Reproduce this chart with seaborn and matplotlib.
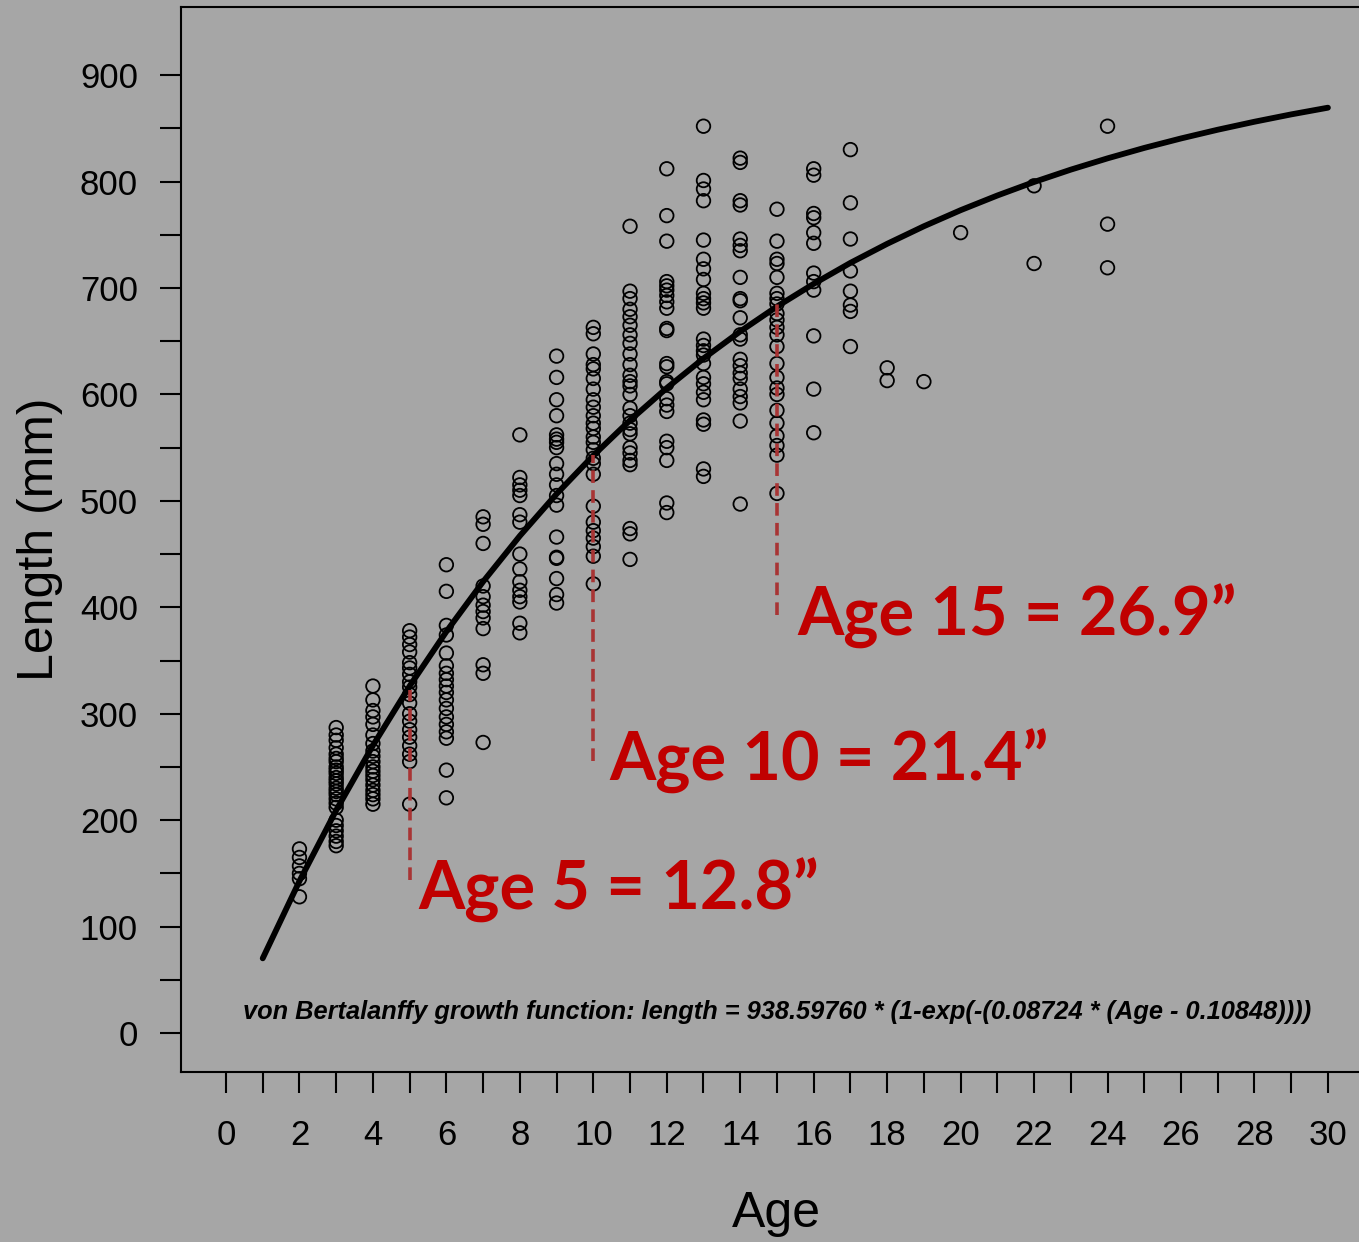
import numpy as np
import pandas as pd
import matplotlib
matplotlib.use("Agg")
import matplotlib.pyplot as plt
import seaborn as sns

# =========================================================
# DATA
# =========================================================

len_age2 = [173, 165, 157, 150, 145, 128]
len_age3 = [287, 280, 275, 268, 262, 258, 255, 250, 247, 244, 240, 237, 234,
            230, 227, 224, 220, 216, 212, 200, 195, 190, 185, 180, 176]
len_age4 = [326, 313, 303, 297, 290, 280, 272, 265, 260, 255, 250, 246, 242,
            238, 233, 228, 224, 220, 215]
len_age5 = [378, 372, 365, 358, 348, 343, 337, 330, 325, 318, 310, 300, 293,
            285, 278, 270, 262, 255, 215]
len_age6 = [440, 415, 383, 374, 357, 345, 338, 332, 326, 320, 313, 305, 297,
            290, 283, 277, 247, 221]
len_age7 = [485, 478, 460, 420, 410, 402, 396, 390, 380, 346, 338, 273]
len_age8 = [562, 522, 515, 510, 505, 487, 480, 450, 436, 424, 416, 410, 405,
            385, 376]
len_age9 = [636, 616, 595, 580, 562, 558, 555, 550, 535, 525, 515, 505, 496,
            466, 447, 446, 427, 412, 404]
len_age10 = [663, 657, 638, 628, 624, 615, 605, 595, 588, 580, 573, 568, 560,
             555, 548, 540, 535, 525, 495, 480, 472, 465, 457, 448, 422]
len_age11 = [758, 697, 690, 680, 673, 665, 656, 648, 638, 628, 618, 612, 608,
             600, 587, 580, 573, 567, 563, 550, 545, 538, 534, 474, 469, 445]
len_age12 = [812, 768, 744, 706, 702, 698, 693, 687, 681, 662, 660, 629, 626,
             612, 610, 596, 590, 584, 556, 550, 538, 498, 489]
len_age13 = [852, 801, 793, 782, 745, 727, 718, 708, 695, 690, 686, 681, 652,
             646, 641, 637, 629, 616, 610, 602, 595, 576, 572, 530, 523]
len_age14 = [822, 818, 782, 778, 746, 740, 735, 710, 690, 688, 672, 656, 652,
             633, 627, 620, 615, 605, 598, 592, 575, 497]
len_age15 = [774, 744, 727, 723, 710, 695, 690, 685, 676, 670, 663, 656, 645,
             629, 616, 606, 600, 585, 573, 561, 552, 543, 507]
len_age16 = [812, 806, 770, 766, 752, 742, 714, 706, 698, 655, 605, 564]
len_age17 = [830, 780, 746, 716, 697, 684, 678, 645]
len_age18 = [625, 613]
len_age19 = [612]
len_age20 = [752]
len_age22 = [796, 723]
len_age24 = [852, 760, 719]

obs_ages = [2, 3, 4, 5, 6, 7, 8, 9, 10, 11, 12, 13, 14, 15, 16, 17, 18, 19,
            20, 22, 24]
obs_lengths = [len_age2, len_age3, len_age4, len_age5, len_age6, len_age7,
               len_age8, len_age9, len_age10, len_age11, len_age12, len_age13,
               len_age14, len_age15, len_age16, len_age17, len_age18,
               len_age19, len_age20, len_age22, len_age24]

# fitted von Bertalanffy curve at whole ages
curve_age = list(range(1, 31))
curve_len = [70.2, 142.8, 209.3, 270.2, 326.0, 377.2, 424.1, 467.1, 506.5,
             542.6, 575.7, 606.0, 633.8, 659.2, 682.6, 703.9, 723.6, 741.5,
             758.0, 773.1, 786.9, 799.6, 811.2, 821.8, 831.6, 840.5, 848.7,
             856.2, 863.1, 869.4]

# dashed markers: age, top and bottom of the dashed segment
mark_age = [5, 10, 15]
mark_top = [322, 543, 688]
mark_bot = [144, 256, 393]
mark_text = ["Age 5 = 12.8\u201d", "Age 10 = 21.4\u201d", "Age 15 = 26.9\u201d"]
mark_text_x = [5.25, 10.45, 15.55]
mark_text_y = [134, 255, 391]

formula = ("von Bertalanffy growth function: length = 938.59760 * "
           "(1-exp(-(0.08724 * (Age - 0.10848))))")

# =========================================================
# TABLES
# =========================================================

df_obs = pd.DataFrame({
    "Age": np.concatenate([[a] * len(v) for a, v in zip(obs_ages, obs_lengths)]),
    "Length": np.concatenate(obs_lengths),
})
df_fit = pd.DataFrame({"Age": curve_age, "Length": curve_len})

# =========================================================
# PLOT
# =========================================================

BG = "#a6a6a6"
sns.set_style("ticks")
plt.rcParams["font.family"] = ["Liberation Sans", "DejaVu Sans"]
plt.rcParams["text.color"] = "black"
plt.rcParams["axes.labelcolor"] = "black"

fig = plt.figure(figsize=(13.59, 12.42), dpi=100, facecolor=BG)
ax = fig.add_axes([181 / 1359, 1 - 1072 / 1242, (1372 - 181) / 1359,
                   (1072 - 7) / 1242])
ax.set_facecolor(BG)

sns.scatterplot(data=df_obs, x="Age", y="Length", ax=ax, marker="o",
                facecolor="none", edgecolor="black", linewidth=1.3, s=95,
                zorder=3)
sns.lineplot(data=df_fit, x="Age", y="Length", ax=ax, color="black",
             linewidth=4.2, zorder=4)

for a, top, bot in zip(mark_age, mark_top, mark_bot):
    ax.plot([a, a], [bot, top], color="#a83434", linewidth=2.6,
            linestyle=(0, (3.5, 2)), zorder=5)

for t, tx, ty in zip(mark_text, mark_text_x, mark_text_y):
    ax.text(tx, ty, t, color="#c00000", fontsize=48, fontweight="bold",
            family="Lato", ha="left", va="center", zorder=6)

ax.text(15.0, 20, formula, fontsize=18.3, fontweight="bold", style="italic",
        color="black", ha="center", va="center", zorder=6)

ax.set_xlim(-1.225, 31.2)
ax.set_ylim(-36.6, 964)

ax.set_xticks(np.arange(0, 31, 1))
ax.set_xticklabels([str(v) if v % 2 == 0 else "" for v in range(0, 31)])
ax.set_yticks(np.arange(0, 901, 50))
ax.set_yticklabels([str(v) if v % 100 == 0 else "" for v in range(0, 901, 50)])
ax.tick_params(axis="both", length=15, width=1.5, colors="black",
               labelsize=25, direction="out")
ax.tick_params(axis="x", pad=19)
ax.tick_params(axis="y", pad=16)

for side in ["left", "top", "bottom"]:
    ax.spines[side].set_linewidth(1.5)
    ax.spines[side].set_color("black")
ax.spines["right"].set_visible(False)

ax.set_xlabel("Age", fontsize=36, labelpad=28)
ax.set_ylabel("Length (mm)", fontsize=36, labelpad=12)

fig.savefig("out.png", dpi=100, facecolor=BG)
